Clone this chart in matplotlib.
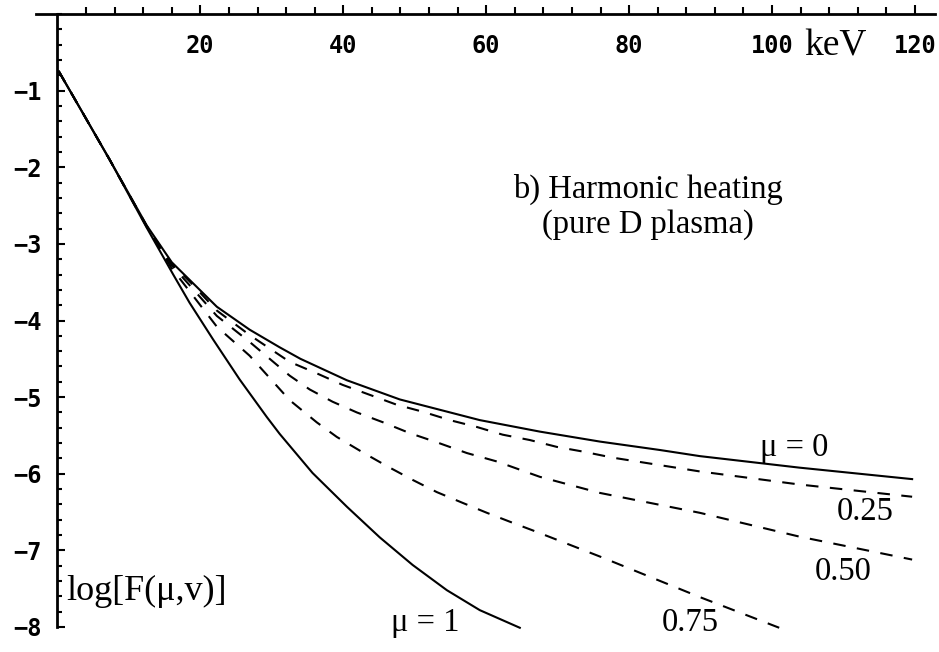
"""Harmonic heating, pure D plasma: log F(mu, v) against energy for five pitch values."""
import matplotlib
matplotlib.use("Agg")
import matplotlib.pyplot as plt
from matplotlib.ticker import FixedLocator, MultipleLocator

# energy in keV, log10 of the distribution function
energy_mu0 = [0.2, 7.3, 12.5, 16.0, 18.5, 22.3, 26.9, 31.1, 34.0, 40.5, 47.9, 59.1, 67.5,
              75.9, 84.3, 89.9, 103.8, 119.6]
logf_mu0 = [-0.75, -1.90, -2.76, -3.24, -3.47, -3.82, -4.12, -4.35, -4.50, -4.78, -5.03, -5.30, -5.45,
            -5.58, -5.69, -5.77, -5.92, -6.07]

energy_mu025 = [0.2, 7.3, 12.5, 16.0, 18.5, 22.3, 26.9, 32.5, 36.3, 39.9, 43.7, 47.5, 51.1,
                54.9, 58.7, 62.3, 66.1, 69.9, 73.5, 77.7, 89.9, 103.8, 119.6]
logf_mu025 = [-0.75, -1.90, -2.77, -3.26, -3.49, -3.87, -4.19, -4.54, -4.69, -4.84, -4.97, -5.10, -5.19,
              -5.30, -5.39, -5.49, -5.56, -5.65, -5.71, -5.79, -5.97, -6.14, -6.30]

energy_mu050 = [0.2, 7.3, 12.5, 16.0, 18.5, 22.3, 26.9, 32.5, 35.3, 38.5, 41.9, 45.6, 49.3,
                53.1, 57.3, 61.5, 67.5, 75.9, 89.9, 103.8, 119.6]
logf_mu050 = [-0.75, -1.90, -2.77, -3.28, -3.54, -3.94, -4.28, -4.72, -4.90, -5.06, -5.20, -5.33, -5.47,
              -5.59, -5.73, -5.84, -6.04, -6.25, -6.51, -6.82, -7.12]

energy_mu075 = [0.2, 7.3, 12.5, 16.0, 18.5, 22.3, 26.9, 32.5, 36.3, 39.1, 42.7, 46.1, 49.7,
                53.1, 56.7, 60.1, 63.7, 67.1, 75.9, 89.9, 101.0]
logf_mu075 = [-0.75, -1.90, -2.78, -3.32, -3.62, -4.08, -4.46, -5.04, -5.33, -5.52, -5.72, -5.90, -6.08,
              -6.24, -6.38, -6.51, -6.64, -6.76, -7.08, -7.61, -8.01]

energy_mu1 = [0.2, 7.3, 12.5, 16.2, 18.5, 21.8, 25.5, 29.3, 31.1, 35.7, 40.5, 45.1, 49.7,
              54.5, 59.1, 64.7]
logf_mu1 = [-0.75, -1.90, -2.79, -3.40, -3.77, -4.25, -4.77, -5.26, -5.48, -5.99, -6.43, -6.83, -7.19,
            -7.52, -7.78, -8.01]

x_major = [20, 40, 60, 80, 100, 120]
x_minor = list(range(4, 124, 4))
y_major = [-1, -2, -3, -4, -5, -6, -7, -8]

SERIF = "Liberation Serif"
MONO = "DejaVu Sans Mono"

fig = plt.figure(figsize=(9.39, 6.52), dpi=100)
ax = fig.add_axes([36 / 939, 1 - 627 / 652, (935 - 36) / 939, (627 - 14) / 652])
ax.set_xlim(-3.0, 122.8)
ax.set_ylim(-8, 0)

solid = dict(color="black", lw=1.5, clip_on=False)
dashed = dict(color="black", lw=1.5, ls=(0, (6, 5.5)), clip_on=False)
ax.plot(energy_mu0, logf_mu0, **solid)
ax.plot(energy_mu025, logf_mu025, **dashed)
ax.plot(energy_mu050, logf_mu050, **dashed)
ax.plot(energy_mu075, logf_mu075, **dashed)
ax.plot(energy_mu1, logf_mu1, **solid)

# axes: energy axis along the top, log axis at E = 0
for side in ("bottom", "right"):
    ax.spines[side].set_visible(False)
ax.spines["left"].set_position(("data", 0))
ax.spines["left"].set_linewidth(2)
ax.spines["top"].set_linewidth(2)

ax.xaxis.set_ticks_position("top")
ax.set_xticks(x_major)
ax.xaxis.set_minor_locator(FixedLocator(x_minor))
ax.tick_params(axis="x", which="major", direction="out", length=6.5, width=1.5,
               labeltop=True, labelbottom=False, pad=-38)
ax.tick_params(axis="x", which="minor", direction="out", length=5, width=1.5)

ax.set_yticks(y_major)
ax.yaxis.set_minor_locator(MultipleLocator(0.2))
ax.tick_params(axis="y", which="major", direction="in", length=6, width=1.5, pad=11)
ax.tick_params(axis="y", which="minor", direction="in", length=3.5, width=1.5)

for lab in ax.get_xticklabels() + ax.get_yticklabels():
    lab.set_fontfamily(MONO)
    lab.set_fontweight("bold")
    lab.set_fontsize(17)

txt = dict(family=SERIF, fontsize=23.5, color="black")
ax.text(104.5, -0.42, "keV", ha="left", va="center", family=SERIF, fontsize=27)
ax.text(63.7, -2.29, "b) Harmonic heating", ha="left", va="center", **txt)
ax.text(67.8, -2.75, "(pure D plasma)", ha="left", va="center", **txt)
ax.text(1.3, -7.54, "log[F(μ,v)]", ha="left", va="center", family=SERIF, fontsize=26)
ax.text(103.1, -5.66, "μ = 0", ha="center", va="center", **txt)
ax.text(113.1, -6.50, "0.25", ha="center", va="center", **txt)
ax.text(109.9, -7.28, "0.50", ha="center", va="center", **txt)
ax.text(88.5, -7.94, "0.75", ha="center", va="center", **txt)
ax.text(51.5, -7.94, "μ = 1", ha="center", va="center", **txt)

fig.savefig("out.png", dpi=100)
